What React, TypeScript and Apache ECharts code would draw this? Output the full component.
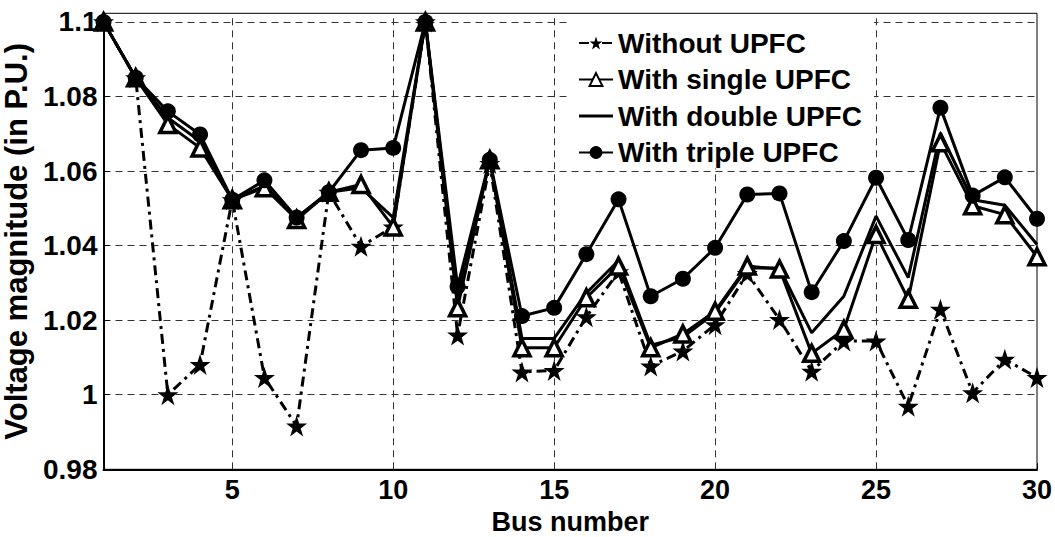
import React, { useEffect, useRef } from "react";
import * as echarts from "echarts";

// Bus numbers of the IEEE 30-bus system
const buses: number[] = Array.from({ length: 30 }, (_, i) => i + 1);

// Bus numbers that carry a tick, label and vertical grid line
const busTicks: number[] = [5, 10, 15, 20, 25, 30];

// Voltage magnitude (p.u.) at each bus
const withoutUpfc: number[] = [
  1.1, 1.085, 1.0, 1.0081, 1.0523, 1.0046, 0.9916, 1.0543, 1.0398, 1.045,
  1.1, 1.016, 1.062, 1.0061, 1.0065, 1.0209, 1.033, 1.0077, 1.0117, 1.0188,
  1.0325, 1.0202, 1.0063, 1.0144, 1.0144, 0.9969, 1.0229, 1.0005, 1.0095, 1.0046,
];
const withSingleUpfc: number[] = [
  1.1, 1.085, 1.0725, 1.0662, 1.0523, 1.0555, 1.047, 1.0543, 1.0564, 1.045,
  1.1, 1.0233, 1.063, 1.0126, 1.0126, 1.026, 1.0345, 1.0126, 1.0163, 1.0224,
  1.0345, 1.0337, 1.0111, 1.0175, 1.043, 1.0256, 1.0676, 1.0507, 1.0483, 1.037,
];
const withDoubleUpfc: number[] = [
  1.1, 1.085, 1.0743, 1.068, 1.0523, 1.056, 1.0475, 1.0543, 1.0555, 1.0475,
  1.1, 1.026, 1.063, 1.0151, 1.0151, 1.0273, 1.036, 1.0133, 1.0155, 1.022,
  1.034, 1.034, 1.0166, 1.0264, 1.0479, 1.0314, 1.0702, 1.0523, 1.0508, 1.0403,
];
const withTripleUpfc: number[] = [
  1.1, 1.085, 1.076, 1.0698, 1.0523, 1.0575, 1.0475, 1.0543, 1.0656, 1.0662,
  1.1, 1.029, 1.063, 1.0211, 1.0233, 1.0377, 1.0524, 1.0264, 1.0311, 1.0394,
  1.0537, 1.054, 1.0275, 1.0412, 1.0582, 1.0415, 1.077, 1.0534, 1.0583, 1.0472,
];

const seriesNames: string[] = [
  "Without UPFC",
  "With single UPFC",
  "With double UPFC",
  "With triple UPFC",
];

const pairs = (ys: number[]) => buses.map((b, i) => [b, ys[i]]);

const FONT = "Liberation Sans, Arial, sans-serif";
const STAR =
  "path://M50,0 L61.8,35.1 L98.9,35.1 L68.9,57 L80.4,92.2 L50,70.5 L19.6,92.2 L31.1,57 L1.1,35.1 L38.2,35.1 Z";
// plain line legend key: the two leading moves fix the 34x16 key box
const LINE_KEY = "path://M0,0 M34,16 M0,6.5 L34,6.5 L34,9.5 L0,9.5 Z";
const GRID_LINE = { color: "#333", width: 1, type: [7, 5] };

export default function App() {
  const ref = useRef<HTMLDivElement>(null);

  useEffect(() => {
    if (!ref.current) return;
    const chart = echarts.init(ref.current, undefined, { renderer: "svg" });
    const lineBase = { color: "#000", width: 3 };
    chart.setOption({
      animation: false,
      backgroundColor: "#fff",
      grid: {
        left: 103.5,
        right: 18,
        top: 13.3,
        bottom: 67.7,
        outerBoundsMode: "none",
        containLabel: false,
        show: true,
        borderColor: "#000",
        borderWidth: 1,
        backgroundColor: "transparent",
      },
      legend: {
        orient: "vertical",
        left: 568,
        top: 14,
        itemWidth: 34,
        itemHeight: 16,
        itemGap: 8.5,
        padding: [15, 12, 2, 10],
        backgroundColor: "#fff",
        data: [
          seriesNames[0],
          seriesNames[1],
          { name: seriesNames[2], icon: LINE_KEY },
          seriesNames[3],
        ],
        textStyle: {
          fontFamily: FONT,
          fontWeight: "bold",
          fontSize: 28,
          lineHeight: 28,
          color: "#000",
        },
      },
      xAxis: {
        type: "value",
        min: 1,
        max: 30,
        name: "Bus number",
        nameLocation: "middle",
        nameGap: 33,
        nameTextStyle: {
          fontFamily: FONT,
          fontWeight: "bold",
          fontSize: 27,
          color: "#000",
        },
        axisLine: { show: true, lineStyle: { color: "#000", width: 2 } },
        axisTick: {
          show: true,
          inside: true,
          length: 6,
          customValues: busTicks,
          lineStyle: { color: "#000" },
        },
        axisLabel: {
          fontFamily: FONT,
          fontWeight: "bold",
          fontSize: 27,
          color: "#000",
          margin: 7,
          customValues: busTicks,
        },
        splitLine: { show: false },
      },
      yAxis: {
        type: "value",
        min: 0.98,
        max: 1.1023,
        interval: 0.02,
        name: "Voltage magnitude (in P.U.)",
        nameLocation: "middle",
        nameGap: 66,
        nameTextStyle: {
          fontFamily: FONT,
          fontWeight: "bold",
          fontSize: 31,
          color: "#000",
        },
        axisLine: { show: true, lineStyle: { color: "#000", width: 2 } },
        axisTick: { show: true, inside: true, length: 6, lineStyle: { color: "#000" } },
        axisLabel: {
          fontFamily: FONT,
          fontWeight: "bold",
          fontSize: 28,
          color: "#000",
          margin: 6,
          showMaxLabel: false,
          formatter: (v: number) => {
            const r = Math.round(v * 100) / 100;
            if (Math.abs(r - v) > 1e-6) return "";
            return String(parseFloat(r.toFixed(2)));
          },
        },
        splitLine: { show: true, lineStyle: GRID_LINE },
      },
      series: [
        {
          name: seriesNames[0],
          type: "line",
          data: pairs(withoutUpfc),
          symbol: STAR,
          symbolSize: 21,
          itemStyle: { color: "#000" },
          lineStyle: { ...lineBase, type: [10, 5, 3, 5] },
          z: 2,
          // vertical grid lines at the labelled bus numbers
          markLine: {
            silent: true,
            symbol: "none",
            label: { show: false },
            lineStyle: GRID_LINE,
            z: 1,
            data: busTicks.filter((b) => b < 30).map((b) => ({ xAxis: b })),
          },
        },
        {
          name: seriesNames[1],
          type: "line",
          data: pairs(withSingleUpfc),
          symbol: "triangle",
          symbolSize: 16,
          itemStyle: { color: "#fff", borderColor: "#000", borderWidth: 3.5 },
          lineStyle: { ...lineBase },
          z: 3,
        },
        {
          name: seriesNames[2],
          type: "line",
          data: pairs(withDoubleUpfc),
          symbol: "none",
          itemStyle: { color: "#000" },
          lineStyle: { ...lineBase },
          z: 3,
        },
        {
          name: seriesNames[3],
          type: "line",
          data: pairs(withTripleUpfc),
          symbol: "circle",
          symbolSize: 16,
          itemStyle: { color: "#000" },
          lineStyle: { ...lineBase },
          z: 4,
        },
      ],
    });
    return () => chart.dispose();
  }, []);

  return (
    <div
      ref={ref}
      style={{ position: "fixed", left: 0, top: 0, width: 1055, height: 537 }}
    />
  );
}
